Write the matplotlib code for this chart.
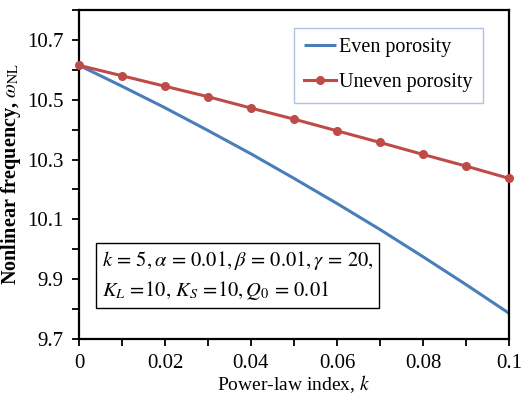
import matplotlib
matplotlib.use("Agg")
import matplotlib.pyplot as plt
from matplotlib.ticker import MultipleLocator, FixedLocator

plt.rcParams['font.family'] = ['Liberation Serif', 'DejaVu Serif']
plt.rcParams['mathtext.fontset'] = 'stix'

# Power-law index values
power_index = [0.00, 0.01, 0.02, 0.03, 0.04, 0.05, 0.06, 0.07, 0.08, 0.09, 0.10]

# Nonlinear frequency for the two porosity distributions
even_porosity = [10.615, 10.545, 10.473, 10.397, 10.319, 10.237, 10.153,
                 10.066, 9.975, 9.882, 9.786]
uneven_porosity = [10.615, 10.580, 10.545, 10.510, 10.472, 10.435, 10.396,
                   10.357, 10.317, 10.278, 10.237]

x_ticks = [0, 0.02, 0.04, 0.06, 0.08, 0.1]
x_tick_labels = ["0", "0.02", "0.04", "0.06", "0.08", "0.1"]
y_ticks = [9.7, 9.9, 10.1, 10.3, 10.5, 10.7]
y_tick_labels = ["9.7", "9.9", "10.1", "10.3", "10.5", "10.7"]

fig = plt.figure(figsize=(5.21, 3.99), dpi=100)
ax = fig.add_axes([0.1516, 0.1504, 0.8254, 0.8246])

blue = "#4a7ebb"
red = "#be4b48"

ax.plot(power_index, even_porosity, color=blue, lw=2.2, label="Even porosity",
        solid_capstyle='butt')
ax.plot(power_index, uneven_porosity, color=red, lw=2.2, marker='o', ms=5.5,
        label="Uneven porosity", clip_on=False, zorder=5)

ax.set_xlim(0, 0.1)
ax.set_ylim(9.7, 10.8)
ax.xaxis.set_major_locator(FixedLocator(x_ticks))
ax.set_xticklabels(x_tick_labels)
ax.xaxis.set_minor_locator(MultipleLocator(0.01))
ax.yaxis.set_major_locator(FixedLocator(y_ticks))
ax.set_yticklabels(y_tick_labels)
ax.yaxis.set_minor_locator(MultipleLocator(0.1))

ax.tick_params(axis='both', which='major', direction='out', length=5, width=1.3,
               labelsize=15, pad=6)
ax.tick_params(axis='both', which='minor', direction='out', length=5, width=1.3)
for s in ax.spines.values():
    s.set_linewidth(1.6)

ax.set_xlabel("Power-law index, $k$", fontsize=14, labelpad=0)
ax.set_ylabel(r"Nonlinear frequency, $\omega_{\mathrm{NL}}$", fontsize=14.5,
              fontweight='bold', labelpad=3)

leg = ax.legend(loc='upper left', bbox_to_anchor=(0.50, 0.945), fontsize=14.5,
                frameon=True, fancybox=False, handlelength=1.6,
                handletextpad=0.15, borderpad=0.5, labelspacing=0.8,
                borderaxespad=0)
leg.get_frame().set_edgecolor("#9bb7db")
leg.get_frame().set_linewidth(1.0)

ax.text(0.053, 0.193,
        "$k\\,=\\,5,\\alpha\\,=\\,0.01,\\beta\\,=\\,0.01,\\gamma\\,=\\,20,$\n"
        "$K_L\\,=\\!10,\\,K_S\\,=\\!10,Q_0\\,=\\,0.01$",
        transform=ax.transAxes, fontsize=14.8, va='center', ha='left',
        linespacing=1.4,
        bbox=dict(boxstyle='square,pad=0.3', fc='white', ec='black', lw=1.0))

fig.savefig("out.png", dpi=100)
